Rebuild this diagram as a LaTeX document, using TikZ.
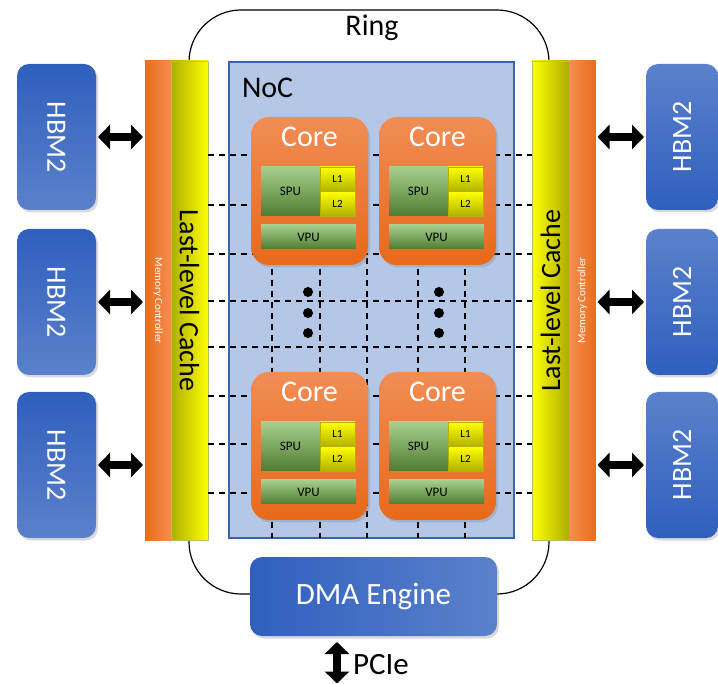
\documentclass[tikz,border=0pt]{standalone}
\usepackage{fontspec}
\usepackage{graphicx}
\setmainfont{Carlito}
\usetikzlibrary{shadows,arrows.meta,calc}

\definecolor{hbmdark}{HTML}{2F5FBE}
\definecolor{hbmlight}{HTML}{5B81CB}
\definecolor{mcdark}{HTML}{E86E1C}
\definecolor{mclight}{HTML}{F58D50}
\definecolor{llcdark}{HTML}{ADAD00}
\definecolor{llcyellow}{HTML}{FFFF00}
\definecolor{llcedge}{HTML}{A9C46A}
\definecolor{nocfill}{HTML}{B4C7E7}
\definecolor{nocedge}{HTML}{3A64AE}
\definecolor{coretop}{HTML}{F18D55}
\definecolor{corebot}{HTML}{E8691A}
\definecolor{spulight}{HTML}{A6CF8C}
\definecolor{spudark}{HTML}{4F7D31}
\definecolor{cachedark}{HTML}{B0B000}

\newcommand\fsbig{\fontsize{28}{30}\selectfont}
\newcommand\fslabel{\fontsize{30}{32}\selectfont}
\newcommand\fshuge{\fontsize{31}{33}\selectfont}

\begin{document}
\begin{tikzpicture}[x=1pt,y=-1pt,
  base/.style={inner sep=0pt, outer sep=0pt},
  softshadow/.style={drop shadow={opacity=0.3, shadow xshift=2pt, shadow yshift=-2.5pt}},
  hbm/.style={base, rounded corners=12pt, minimum width=79pt, minimum height=146pt,
    softshadow, text=white, font=\fsbig},
  mc/.style={base, minimum width=26pt, minimum height=479pt, text=white,
    font=\fontsize{11}{12}\selectfont},
  llc/.style={base, draw=llcedge, line width=0.8pt, minimum width=37pt,
    minimum height=479pt, font=\fsbig},
  core/.style={base, rounded corners=18pt, minimum width=117pt, minimum height=148pt,
    top color=coretop, bottom color=corebot, softshadow},
  corelbl/.style={base, text=white, font=\fslabel},
  spu/.style={base, top color=spulight, bottom color=spudark,
    font=\fontsize{13}{14}\selectfont},
  cache/.style={base, top color=llcyellow, bottom color=cachedark,
    draw=llcyellow!70!black, line width=0.3pt, font=\fontsize{11}{12}\selectfont},
  grid/.style={line width=1.2pt, dash pattern=on 6pt off 5pt},
  dot/.style={circle, fill=black, inner sep=0pt, minimum size=10pt},
  biarrow/.style={line width=8pt,
    {Triangle[length=12pt,width=24pt]}-{Triangle[length=12pt,width=24pt]}},
  txt/.style={base, font=\fslabel}
]
\useasboundingbox (0,0) rectangle (718,684);

% ring interconnect
\node[base, draw, line width=1.2pt, rounded corners=52pt,
  minimum width=360pt, minimum height=584pt] (ring) at (369,302) {};
\node[txt] (ringlbl) at (372,28) {Ring};

% memory controllers and last-level caches
\node[mc, left color=mcdark, right color=mclight] (mcL) at (158,300.5)
  {\rotatebox{-90}{Memory Controller}};
\node[llc, left color=llcdark, right color=llcyellow] (llcL) at (189.5,300.5)
  {\rotatebox{-90}{Last-level Cache}};
\node[llc, left color=llcyellow, right color=llcdark] (llcR) at (550.5,300.5)
  {\rotatebox{90}{Last-level Cache}};
\node[mc, left color=mclight, right color=mcdark] (mcR) at (582.5,300.5)
  {\rotatebox{90}{Memory Controller}};

% network on chip
\node[base, fill=nocfill, draw=nocedge, line width=1.5pt,
  minimum width=285pt, minimum height=476pt] (noc) at (371.5,300) {};
\node[txt, anchor=west] (noclbl) at (242,88) {NoC};

% mesh links
\foreach \y in {155,205,254,301,347,396,444,493}
  \draw[grid] (llcL.east |- 0,\y) -- (llcR.west |- 0,\y);
\foreach \x in {272,320,367,418,465}
  \draw[grid] (\x,258) -- (noc.south -| \x,0);

% cores
\foreach \n/\cx/\cy in {1/251/117, 2/379/117, 3/251/372, 4/379/372} {
  \node[core, anchor=north west] (core\n) at (\cx,\cy) {};
  \node[corelbl] (corelbl\n) at ($(core\n.north west)+(58.5,20)$) {Core};
  \node[spu, anchor=north west, minimum width=59pt, minimum height=49pt]
    (spu\n) at ($(core\n.north west)+(10,50)$) {SPU};
  \node[cache, anchor=north west, minimum width=35pt, minimum height=24.5pt]
    (lone\n) at ($(core\n.north west)+(69,50)$) {L1};
  \node[cache, anchor=north west, minimum width=35pt, minimum height=24.5pt]
    (ltwo\n) at ($(core\n.north west)+(69,74.5)$) {L2};
  \node[spu, anchor=north west, minimum width=95pt, minimum height=24pt]
    (vpu\n) at ($(core\n.north west)+(10,108)$) {VPU};
}

% ellipsis between core rows
\foreach \dx in {308,439}
  \foreach \dy in {292,313,333}
    \node[dot] (dot-\dx-\dy) at (\dx,\dy) {};

% DMA engine
\node[base, rounded corners=12pt, minimum width=247pt, minimum height=79pt,
  left color=hbmdark, right color=hbmlight, softshadow, text=white, font=\fshuge]
  (dma) at (373.5,596.5) {DMA Engine};

% HBM2 stacks
\node[hbm, top color=hbmdark, bottom color=hbmlight] (hbmL1) at (56.5,137) {\rotatebox{-90}{HBM2}};
\node[hbm, top color=hbmdark, bottom color=hbmlight] (hbmL2) at (56.5,302) {\rotatebox{-90}{HBM2}};
\node[hbm, top color=hbmdark, bottom color=hbmlight] (hbmL3) at (56.5,465) {\rotatebox{-90}{HBM2}};
\node[hbm, minimum width=72pt, top color=hbmlight, bottom color=hbmdark] (hbmR1) at (682,137) {\rotatebox{90}{HBM2}};
\node[hbm, minimum width=72pt, top color=hbmlight, bottom color=hbmdark] (hbmR2) at (682,302) {\rotatebox{90}{HBM2}};
\node[hbm, minimum width=72pt, top color=hbmlight, bottom color=hbmdark] (hbmR3) at (682,465) {\rotatebox{90}{HBM2}};

% memory links
\foreach \i in {1,2,3} {
  \draw[biarrow, shorten <=2pt, shorten >=2pt] (hbmL\i.east) -- (hbmL\i.east -| mcL.west);
  \draw[biarrow, shorten <=2pt, shorten >=2pt] (hbmR\i.west -| mcR.east) -- (hbmR\i.west);
}

% host link
\coordinate (pcieend) at (337,684);
\draw[biarrow, shorten <=6pt, shorten >=0.5pt] (dma.south -| pcieend) -- (pcieend);
\node[txt, anchor=west, font=\fshuge] (pcie) at (353,665) {PCIe};
\end{tikzpicture}
\end{document}
